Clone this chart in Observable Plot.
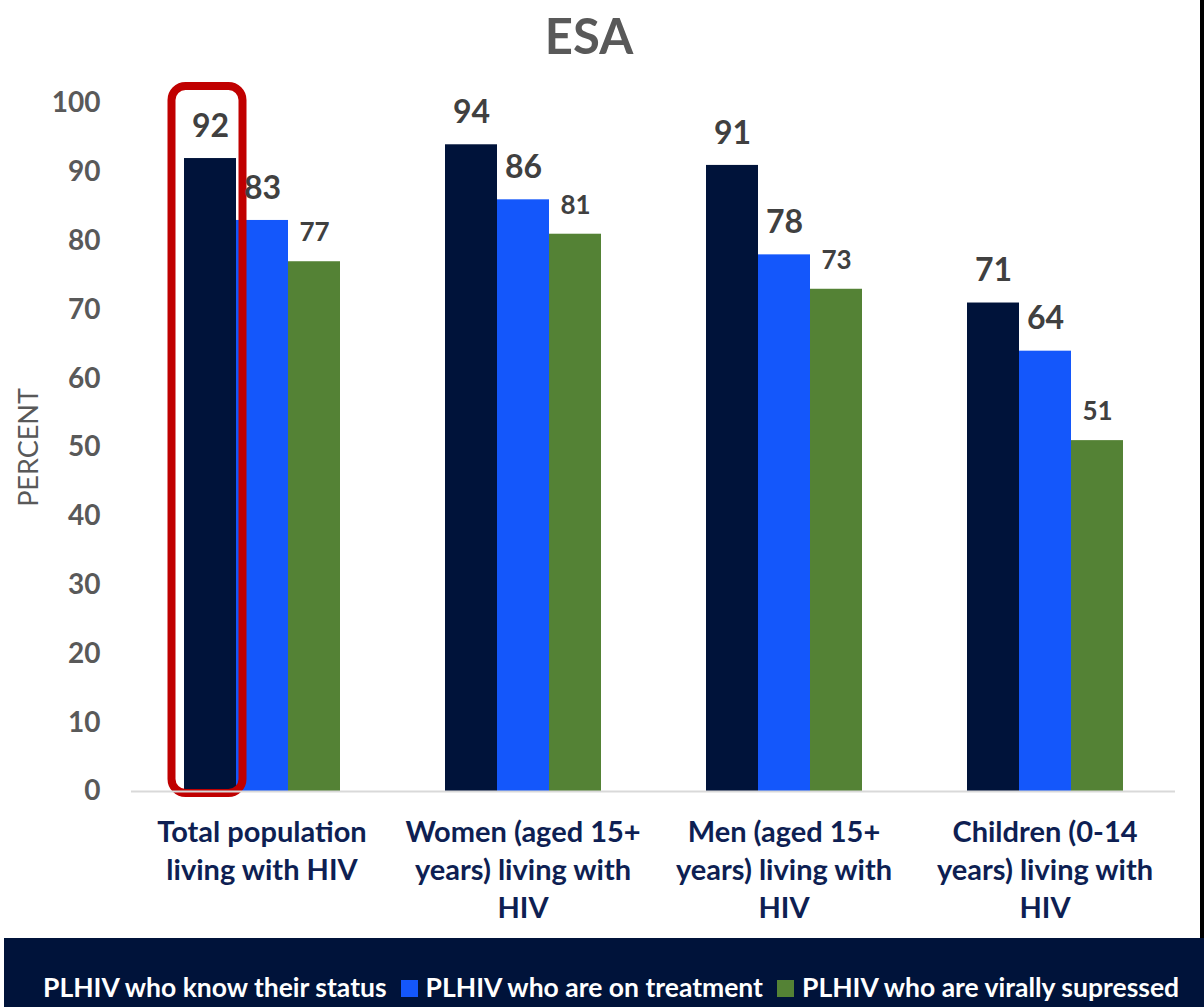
<!DOCTYPE html>
<html><head><meta charset="utf-8">
<script src="https://cdn.jsdelivr.net/npm/d3@7"></script>
<script src="https://cdn.jsdelivr.net/npm/@observablehq/plot@0.6"></script>
<style>
body{margin:0;background:#fff;font-family:Lato,"Open Sans",sans-serif;}
#wrap{position:relative;width:1204px;height:1007px;overflow:hidden;background:#fff}
#title{height:70px;width:1178px;text-align:center;font-weight:bold;font-size:49px;color:#595959;line-height:70px;box-sizing:border-box;padding-top:0}
#chart{height:868px}
#legend{position:absolute;left:4px;top:938px;width:1200px;height:69px;background:#00133A;display:flex;align-items:flex-end;box-sizing:border-box;padding-left:14px;padding-bottom:5px}
.item{display:flex;align-items:center;color:#fff;font-weight:bold;font-size:26.5px;line-height:1.05;margin-right:14px;white-space:nowrap}
.sw{width:17px;height:17px;margin-right:8px;display:inline-block}
#edge{position:absolute;left:1200px;top:0;width:4px;height:938px;background:#000}
</style></head>
<body><div id="wrap">
<div id="title"></div>
<div id="chart"></div>
<div id="legend"></div>
<div id="edge"></div>
</div>
<script>
const title = "ESA";
const categories = [
  "Total population\nliving with HIV",
  "Women (aged 15+\nyears) living with\nHIV",
  "Men (aged 15+\nyears) living with\nHIV",
  "Children (0-14\nyears) living with\nHIV"
];
const series = ["PLHIV who know their status", "PLHIV who are on treatment", "PLHIV who are virally supressed"];
const knowStatus = [92, 94, 91, 71];
const onTreatment = [83, 86, 78, 64];
const virallySuppressed = [77, 81, 73, 51];
const colors = ["#00133A", "#1457FB", "#548235"];
const yTicks = [0, 10, 20, 30, 40, 50, 60, 70, 80, 90, 100];
const yLabel = "PERCENT";

const seriesValues = [knowStatus, onTreatment, virallySuppressed];
const data = [];
categories.forEach((c, i) => series.forEach((s, j) => data.push({category: c, series: s, value: seriesValues[j][i], big: j < 2})));
const highlight = data.filter(d => d.category === categories[0] && d.series === series[0]);

document.getElementById("title").textContent = title;

const chart = Plot.plot({
  width: 1204, height: 868,
  marginTop: 33, marginBottom: 147, marginLeft: 131, marginRight: 29,
  style: {fontFamily: "Lato, 'Open Sans', sans-serif", background: "transparent", overflow: "visible"},
  fx: {domain: categories, paddingInner: 0.4, paddingOuter: 0.2, label: null},
  x: {domain: series, padding: 0, axis: null},
  y: {domain: [0, 100], axis: null},
  color: {domain: series, range: colors},
  marks: [
    Plot.barY(data, {fx: "category", x: "series", y: "value", fill: "series"}),
    Plot.barY(highlight, {fx: "category", x: "series", y: "value", fill: "none", stroke: "#C00000", strokeWidth: 8, rx: 14, insetTop: -72, insetBottom: -2, insetLeft: -12.5, insetRight: -6.5}),
    Plot.text(data.filter(d => d.big), {fx: "category", x: "series", y: "value", text: d => String(d.value), dy: -32, fontSize: 32, fontWeight: "bold", fill: "#404040"}),
    Plot.text(data.filter(d => !d.big), {fx: "category", x: "series", y: "value", text: d => String(d.value), dy: -29, fontSize: 26, fontWeight: "bold", fill: "#404040"}),
    Plot.axisY({ticks: yTicks, tickSize: 0, tickPadding: 83, fontSize: 28, fontWeight: "bold", fill: "#595959", label: yLabel, labelAnchor: "center", labelOffset: 165}),
    Plot.axisFx({anchor: "bottom", tickSize: 0, tickPadding: 24, fontSize: 29, fontWeight: "bold", fill: "#0E1F53", lineHeight: 1.3, label: null})
  ]
});
document.getElementById("chart").appendChild(chart);

const svg = d3.select(chart);
const yl = svg.selectAll('g[aria-label="y-axis label"]').style("font-weight", "normal").style("font-size", "27px");
yl.selectAll("text").text(yLabel);
const y0 = chart.scale("y").apply(0);
svg.append("line").attr("x1", 131).attr("x2", 1175).attr("y1", y0 + 0.5).attr("y2", y0 + 0.5)
  .attr("stroke", "#D9D9D9").attr("stroke-width", 2);

const legend = d3.select("#legend");
series.forEach((s, j) => {
  const it = legend.append("div").attr("class", "item");
  it.append("span").attr("class", "sw").style("background", colors[j]);
  it.append("span").text(s);
});
</script>
</body></html>
